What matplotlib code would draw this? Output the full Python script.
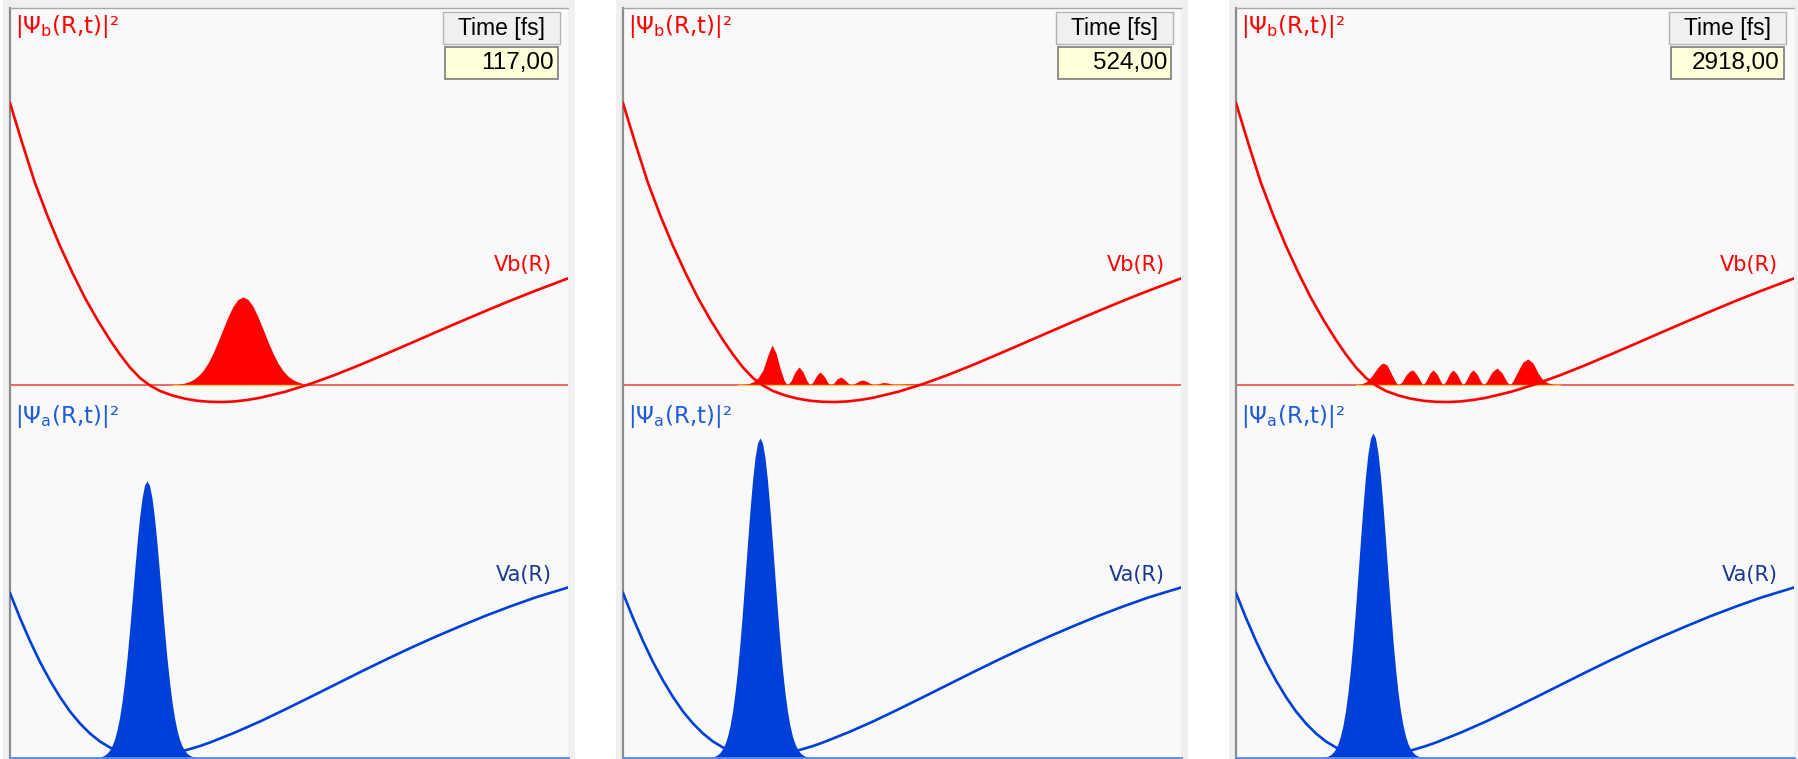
import matplotlib
matplotlib.use("Agg")
import matplotlib.pyplot as plt
from matplotlib.patches import Rectangle

W, H = 1799, 759
DPI = 100

# ---------------- data (R in arbitrary units, energy / density in arbitrary units) -------------
times = ["117,00", "524,00", "2918,00"]

# upper potential Vb(R)
R_vb = [0.0, 0.125, 0.25, 0.375, 0.5, 0.625, 0.75, 0.875, 1.0, 1.1, 1.2, 1.3, 1.4, 1.5, 1.625, 1.75,
        1.875, 2.0, 2.125, 2.25, 2.375, 2.5, 2.75, 3.0, 3.25, 3.5, 3.75, 4.0, 4.25, 4.5, 4.75, 5.0,
        5.25, 5.58]
Vb = [6.55, 6.14, 5.75, 5.42, 5.12, 4.85, 4.60, 4.38, 4.18, 4.035, 3.905, 3.80, 3.725, 3.67, 3.625,
      3.593, 3.572, 3.562, 3.560, 3.566, 3.581, 3.602, 3.662, 3.740, 3.831, 3.931, 4.037, 4.145,
      4.254, 4.362, 4.468, 4.572, 4.671, 4.796]
base_b = 3.73          # zero line of |Psi_b|^2

# lower potential Va(R)
R_va = [0.0, 0.1, 0.2, 0.3, 0.4, 0.5, 0.6, 0.7, 0.8, 0.9, 1.0, 1.1, 1.2, 1.3, 1.4, 1.5, 1.6, 1.7,
        1.8, 1.9, 2.0, 2.25, 2.5, 2.75, 3.0, 3.25, 3.5, 3.75, 4.0, 4.25, 4.5, 4.75, 5.0, 5.25, 5.58]
Va = [1.65, 1.40, 1.17, 0.96, 0.775, 0.61, 0.465, 0.345, 0.245, 0.165, 0.105, 0.062, 0.035, 0.022,
      0.020, 0.027, 0.042, 0.063, 0.090, 0.120, 0.155, 0.255, 0.365, 0.485, 0.608, 0.733, 0.858,
      0.980, 1.098, 1.210, 1.317, 1.420, 1.515, 1.604, 1.705]
base_a = 0.0           # zero line of |Psi_a|^2

# |Psi_b(R,t)|^2 for the three times
psi_b_R = [
    [1.63, 1.68, 1.73, 1.78, 1.83, 1.88, 1.93, 1.98, 2.03, 2.08, 2.13, 2.18, 2.23, 2.28, 2.33, 2.38,
     2.43, 2.48, 2.53, 2.58, 2.63, 2.68, 2.73, 2.78, 2.83, 2.88, 2.93],
    [1.15, 1.20, 1.25, 1.30, 1.35, 1.40, 1.45, 1.49, 1.53, 1.57, 1.61, 1.64,
     1.68, 1.72, 1.76, 1.80, 1.84, 1.87,
     1.90, 1.94, 1.97, 2.01, 2.05, 2.08,
     2.11, 2.14, 2.18, 2.22, 2.26, 2.29,
     2.32, 2.36, 2.40, 2.44, 2.48, 2.51,
     2.55, 2.60, 2.65, 2.70, 2.73,
     2.78, 2.85, 2.92, 2.98],
    [1.20, 1.25, 1.30, 1.35, 1.40, 1.44, 1.47, 1.51, 1.55, 1.59, 1.62,
     1.66, 1.70, 1.74, 1.77, 1.81, 1.85, 1.87,
     1.90, 1.94, 1.97, 2.01, 2.05, 2.07,
     2.10, 2.14, 2.17, 2.21, 2.25, 2.27,
     2.30, 2.34, 2.37, 2.41, 2.45, 2.48,
     2.51, 2.56, 2.61, 2.66, 2.71, 2.74,
     2.77, 2.82, 2.87, 2.92, 2.97, 3.02, 3.07, 3.12, 3.18, 3.24],
]
psi_b = [
    [0.003, 0.007, 0.015, 0.029, 0.052, 0.089, 0.143, 0.219, 0.317, 0.433, 0.559, 0.682, 0.786, 0.855,
     0.88, 0.855, 0.786, 0.682, 0.559, 0.433, 0.317, 0.219, 0.143, 0.089, 0.052, 0.029, 0.015],
    [0.0, 0.005, 0.012, 0.03, 0.07, 0.15, 0.30, 0.40, 0.32, 0.17, 0.05, 0.0,
     0.04, 0.13, 0.18, 0.13, 0.04, 0.0,
     0.03, 0.10, 0.13, 0.09, 0.02, 0.0,
     0.02, 0.06, 0.08, 0.05, 0.01, 0.0,
     0.015, 0.04, 0.05, 0.035, 0.01, 0.0,
     0.01, 0.025, 0.02, 0.005, 0.0,
     0.005, 0.012, 0.008, 0.0],
    [0.0, 0.01, 0.03, 0.08, 0.15, 0.20, 0.22, 0.20, 0.12, 0.04, 0.0,
     0.03, 0.10, 0.14, 0.15, 0.10, 0.03, 0.0,
     0.04, 0.12, 0.15, 0.11, 0.03, 0.0,
     0.04, 0.12, 0.15, 0.11, 0.03, 0.0,
     0.04, 0.12, 0.15, 0.11, 0.03, 0.0,
     0.04, 0.13, 0.17, 0.12, 0.03, 0.0,
     0.04, 0.14, 0.23, 0.26, 0.22, 0.12, 0.05, 0.02, 0.005, 0.0],
]

# |Psi_a(R,t)|^2 for the three times
psi_a_R = [0.870, 0.895, 0.920, 0.945, 0.970, 0.995, 1.020, 1.045, 1.070, 1.095, 1.120, 1.145,
           1.170, 1.195, 1.220, 1.245, 1.270, 1.295, 1.320, 1.345, 1.370, 1.395, 1.420, 1.445,
           1.470, 1.495, 1.520, 1.545, 1.570, 1.595, 1.620, 1.645, 1.670, 1.695, 1.720, 1.745,
           1.770, 1.795, 1.820, 1.845, 1.870]
psi_a = [
    [0.005, 0.009, 0.016, 0.028, 0.047, 0.077, 0.122, 0.187, 0.279, 0.402, 0.562, 0.761, 0.998,
     1.268, 1.560, 1.859, 2.146, 2.400, 2.599, 2.726, 2.770, 2.726, 2.599, 2.400, 2.146, 1.859,
     1.560, 1.268, 0.998, 0.761, 0.562, 0.402, 0.279, 0.187, 0.122, 0.077, 0.047, 0.028, 0.016,
     0.009, 0.005],
    [0.005, 0.010, 0.018, 0.032, 0.054, 0.089, 0.141, 0.216, 0.322, 0.465, 0.650, 0.880, 1.153,
     1.465, 1.803, 2.148, 2.479, 2.772, 3.002, 3.149, 3.200, 3.149, 3.002, 2.772, 2.479, 2.148,
     1.803, 1.465, 1.153, 0.880, 0.650, 0.465, 0.322, 0.216, 0.141, 0.089, 0.054, 0.032, 0.018,
     0.010, 0.005],
    [0.006, 0.010, 0.019, 0.032, 0.055, 0.090, 0.143, 0.220, 0.327, 0.472, 0.660, 0.893, 1.171,
     1.488, 1.831, 2.182, 2.518, 2.816, 3.049, 3.199, 3.250, 3.199, 3.049, 2.816, 2.518, 2.182,
     1.831, 1.488, 1.171, 0.893, 0.660, 0.472, 0.327, 0.220, 0.143, 0.090, 0.055, 0.032, 0.019,
     0.010, 0.006],
]

# ---------------- styling ----------------
RED = "#ff0000"
RED_BASE = "#f05a5a"
BLUE = "#0040d8"
BLUE_BASE = "#5a8af0"
BLUE_LABEL = "#1f5bd8"
NAVY = "#1a3a90"
PLOT_BG = "#f9f9f9"
FRAME_BG = "#f0f0f0"

panel_left = [10, 623, 1236]
panel_w = 558
plot_top = 8

plt.rcParams["mathtext.fontset"] = "dejavusans"

fig = plt.figure(figsize=(W / DPI, H / DPI), dpi=DPI)
fig.patch.set_facecolor("white")


def fx(px):
    return px / W


def fy(py):
    return 1 - py / H


for i, pl in enumerate(panel_left):
    # outer window frame
    fig.add_artist(Rectangle((fx(pl - 7), 0), (panel_w + 14) / W, 1, transform=fig.transFigure,
                             facecolor=FRAME_BG, edgecolor="none", zorder=0))
    ax = fig.add_axes([fx(pl), 0, panel_w / W, (H - plot_top) / H])
    ax.set_facecolor(PLOT_BG)
    ax.set_xlim(0, 5.58)
    ax.set_ylim(-0.01, 7.50)
    ax.set_xticks([])
    ax.set_yticks([])
    for s in ["right", "bottom"]:
        ax.spines[s].set_visible(False)
    ax.spines["left"].set_color("#8c8c8c")
    ax.spines["left"].set_linewidth(1.6)
    ax.spines["top"].set_color("#a8a8a8")
    ax.spines["top"].set_linewidth(1.0)

    # upper state
    ax.axhline(base_b, color=RED_BASE, lw=1.3, zorder=2)
    ax.fill_between(psi_b_R[i], base_b, [base_b + v for v in psi_b[i]], color=RED, lw=0, zorder=3)
    ax.plot([psi_b_R[i][0], psi_b_R[i][-1]], [base_b, base_b], color="#f2c94c", lw=1.0, zorder=3.5)
    ax.plot(R_vb, Vb, color=RED, lw=1.9, zorder=4, solid_joinstyle="round")

    # lower state
    ax.fill_between(psi_a_R, base_a, [base_a + v for v in psi_a[i]], color=BLUE, lw=0, zorder=3)
    ax.plot(R_va, Va, color=BLUE, lw=1.9, zorder=4, solid_joinstyle="round")
    ax.axhline(base_a, color=BLUE_BASE, lw=2.0, zorder=5, clip_on=False)

    # labels
    fig.text(fx(pl + 5), fy(13), r"|Ψ$_{\mathrm{b}}$(R,t)|²", color=RED, fontsize=16.5,
             ha="left", va="top", family="DejaVu Sans")
    fig.text(fx(pl + 5), fy(403), r"|Ψ$_{\mathrm{a}}$(R,t)|²", color=BLUE_LABEL, fontsize=16.5,
             ha="left", va="top", family="DejaVu Sans")
    fig.text(fx(pl + 542), fy(265), "Vb(R)", color=RED, fontsize=15,
             ha="right", va="center", family="DejaVu Sans")
    fig.text(fx(pl + 542), fy(575), "Va(R)", color=NAVY, fontsize=15,
             ha="right", va="center", family="DejaVu Sans")

    # time widget
    bx0, bx1 = pl + 433, pl + 550
    fig.add_artist(Rectangle((fx(bx0), fy(44)), (bx1 - bx0) / W, 32 / H, transform=fig.transFigure,
                             facecolor="#f0f0f0", edgecolor="#b4b4b4", lw=1.0, zorder=6))
    fig.text(fx((bx0 + bx1) / 2), fy(28), "Time [fs]", color="black", fontsize=16.5,
             ha="center", va="center", family="Liberation Sans", zorder=7)
    fig.add_artist(Rectangle((fx(bx0 + 2), fy(79)), (bx1 - bx0 - 4) / W, 32 / H,
                             transform=fig.transFigure, facecolor="#ffffd9", edgecolor="#7a7a7a",
                             lw=1.2, zorder=6))
    fig.text(fx(bx1 - 6), fy(63), times[i], color="black", fontsize=17.5,
             ha="right", va="center", family="Liberation Sans", zorder=7)

fig.savefig("out.png", dpi=DPI, facecolor="white")
